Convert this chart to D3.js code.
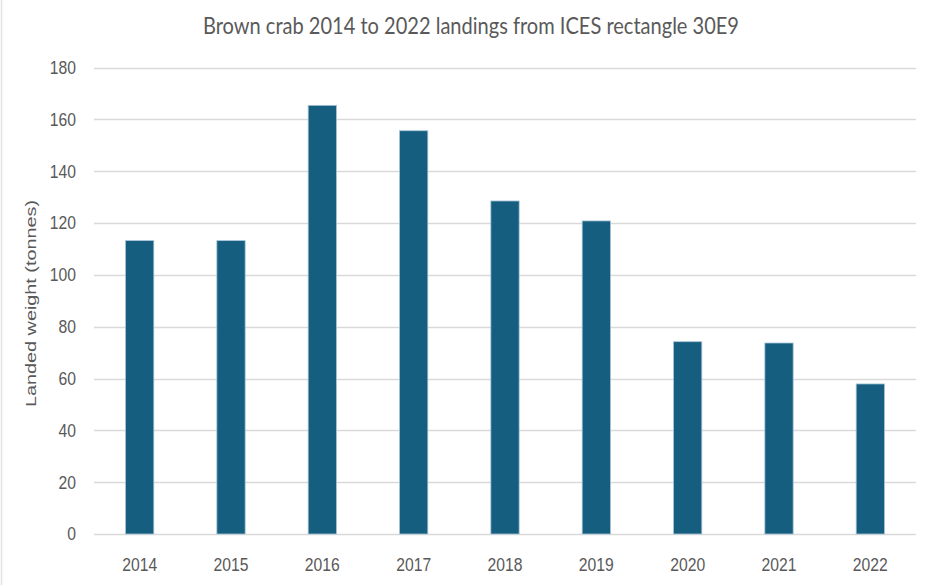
<!DOCTYPE html>
<html>
<head>
<meta charset="utf-8">
<script src="https://cdn.jsdelivr.net/npm/d3@7"></script>
<style>
  html, body { margin: 0; padding: 0; background: #fff; }
  svg { display: block; }
</style>
</head>
<body>
<svg id="chart" width="932" height="585"></svg>
<script>
// Brown crab landings by year (tonnes)
const years = ["2014", "2015", "2016", "2017", "2018", "2019", "2020", "2021", "2022"];
const landings = [113.2, 113.2, 165.4, 155.6, 128.5, 120.8, 74.2, 73.7, 57.9];
const yTicks = [0, 20, 40, 60, 80, 100, 120, 140, 160, 180];

const W = 932, H = 585;
const margin = { top: 67.5, right: 16, bottom: 51, left: 94 };
const svg = d3.select("#chart");

// faint frame on the left edge
svg.append("line")
  .attr("x1", 1.5).attr("x2", 1.5).attr("y1", 0).attr("y2", H)
  .attr("stroke", "#e2e2e2").attr("stroke-width", 1.5);

const x = d3.scaleBand()
  .domain(years)
  .range([margin.left, W - margin.right])
  .paddingInner(0.69)
  .paddingOuter(0.345);

const y = d3.scaleLinear()
  .domain([0, 180])
  .range([H - margin.bottom, margin.top]);

// narrow tick lettering: regular sans squeezed horizontally
const tickFont = "'Liberation Sans', Arial, sans-serif";
const tickSize = 18.5;
const squeeze = "scale(0.85,1)";

// horizontal gridlines
svg.append("g")
  .selectAll("line")
  .data(yTicks)
  .join("line")
  .attr("x1", margin.left).attr("x2", W - margin.right)
  .attr("y1", d => Math.round(y(d)) + 0.5).attr("y2", d => Math.round(y(d)) + 0.5)
  .attr("stroke", "#d9d9d9").attr("stroke-width", 1.3);

// y axis labels
const yAxis = d3.axisLeft(y).tickValues(yTicks).tickSize(0).tickPadding(0);
const gy = svg.append("g")
  .attr("transform", `translate(${margin.left - 18},0)`)
  .call(yAxis);
gy.select(".domain").remove();
gy.selectAll("text")
  .attr("font-family", tickFont).attr("font-size", tickSize)
  .attr("fill", "#595959")
  .attr("transform", squeeze);

// bars
svg.append("g")
  .selectAll("rect")
  .data(years.map((yr, i) => ({ yr, v: landings[i] })))
  .join("rect")
  .attr("x", d => x(d.yr))
  .attr("y", d => y(d.v))
  .attr("width", x.bandwidth())
  .attr("height", d => y(0) - y(d.v))
  .attr("fill", "#155e80")
  .attr("stroke", "#a9c6d6").attr("stroke-width", 0.8);

// x axis labels
const xAxis = d3.axisBottom(x).tickSize(0).tickPadding(0);
const gx = svg.append("g")
  .attr("transform", `translate(0,${y(0)})`)
  .call(xAxis);
gx.select(".domain").remove();
gx.selectAll("text")
  .attr("font-family", tickFont).attr("font-size", tickSize)
  .attr("fill", "#595959")
  .attr("y", 37).attr("dy", 0)
  .attr("transform", squeeze);

// title
svg.append("text")
  .attr("x", 471).attr("y", 34.3)
  .attr("text-anchor", "middle")
  .attr("font-family", "Lato, sans-serif").attr("font-size", 23.5)
  .attr("textLength", 536).attr("lengthAdjust", "spacingAndGlyphs")
  .attr("fill", "#595959")
  .text("Brown crab 2014 to 2022 landings from ICES rectangle 30E9");

// y axis title
svg.append("text")
  .attr("transform", `translate(36,${(200 + 407) / 2}) rotate(-90)`)
  .attr("text-anchor", "middle")
  .attr("font-family", "'Liberation Sans', Arial, sans-serif").attr("font-size", 15)
  .attr("textLength", 207).attr("lengthAdjust", "spacingAndGlyphs")
  .attr("fill", "#595959")
  .text("Landed weight (tonnes)");
</script>
</body>
</html>
